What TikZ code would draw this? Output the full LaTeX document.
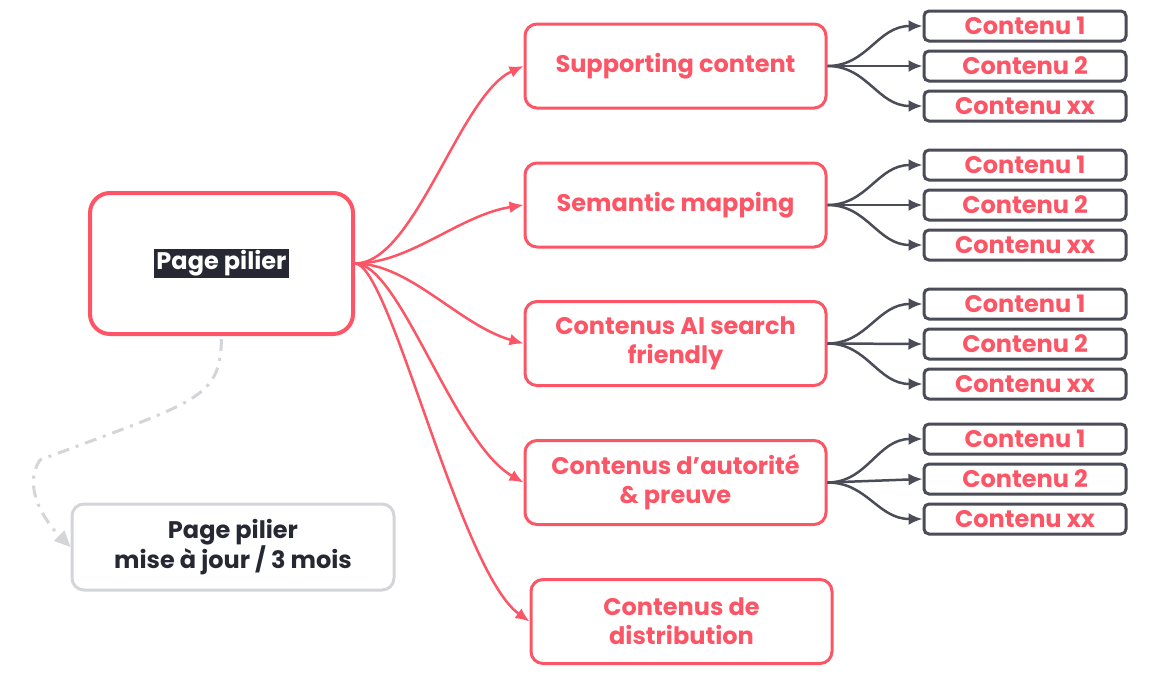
\documentclass[tikz,border=0pt]{standalone}
\usepackage{fontspec}
\setmainfont{Poppins}
\usetikzlibrary{arrows.meta}
\definecolor{pred}{HTML}{FB5566}
\definecolor{pdark}{HTML}{4A4C57}
\definecolor{pgray}{HTML}{D4D5D9}
\definecolor{ptext}{HTML}{262833}
\tikzset{
  txt/.style={font=\bfseries\fontsize{24}{29}\selectfont, align=center},
  midbox/.style={txt, draw=pred, text=pred, line width=3pt, rounded corners=12pt, minimum width=301pt, minimum height=84pt},
  leafbox/.style={font=\bfseries\fontsize{24}{26}\selectfont, draw=pdark, text=pred, line width=3pt, rounded corners=5pt, minimum width=202pt, minimum height=30pt, inner sep=0pt},
  redarrow/.style={draw=pred, line width=2.5pt, -{Latex[length=14pt,width=12pt]}},
  darkarrow/.style={draw=pdark, line width=2.5pt, -{Latex[length=14pt,width=12pt]}},
}
\begin{document}
\begin{tikzpicture}[x=1pt,y=-1pt]
\useasboundingbox (0,0) rectangle (1162,673);
\fill[white] (0,0) rectangle (1162,673);

% main node
\node[draw=pred, line width=4pt, rounded corners=20pt, minimum width=263pt, minimum height=141pt] (pp) at (221.5,263.5) {};
\node[txt, fill=ptext, text=white, inner sep=2pt] (pptxt) at (pp.center) {Page pilier};

% update node
\node[txt, draw=pgray, text=ptext, line width=3pt, rounded corners=12pt, minimum width=322pt, minimum height=86pt] (upd) at (233,547) {Page pilier\\mise à jour / 3 mois};

% middle nodes
\node[midbox] (m1) at (675.5,66) {Supporting content};
\node[midbox] (m2) at (675.5,205) {Semantic mapping};
\node[midbox] (m3) at (675.5,343.5) {Contenus AI search\\friendly};
\node[midbox] (m4) at (675.5,482.5) {Contenus d’autorité\\\& preuve};
\node[midbox] (m5) at (681.5,621.5) {Contenus de\\distribution};

% leaves
\foreach \g/\ya/\yb/\yc in {1/26/66/106, 2/165/205/245, 3/304/344/384, 4/439/479/519}{
  \node[leafbox] (l\g a) at (1025,\ya) {Contenu 1};
  \node[leafbox] (l\g b) at (1025,\yb) {Contenu 2};
  \node[leafbox] (l\g c) at (1025,\yc) {Contenu xx};
}

% red connectors
\draw[redarrow] (pp.east) .. controls +(60,0) and +(-64,29) .. (m1.west);
\draw[redarrow] (pp.east) .. controls +(55,0) and +(-64,10) .. (m2.west);
\draw[redarrow] (pp.east) .. controls +(55,0) and +(-64,-18) .. (m3.west);
\draw[redarrow] (pp.east) .. controls +(45,0) and +(-70,-40) .. (m4.west);
\draw[redarrow] (pp.east) .. controls +(35,0) and +(-70,-50) .. (m5.west);

% dark forks
\foreach \g in {1,2,3,4}{
  \draw[darkarrow] (m\g.east) .. controls +(40,0) and +(-45,0) .. (l\g a.west);
  \draw[darkarrow] (m\g.east) -- (l\g b.west);
  \draw[darkarrow] (m\g.east) .. controls +(40,0) and +(-45,0) .. (l\g c.west);
}

% dashed update link
\draw[draw=pgray, line width=3pt, dash pattern=on 12pt off 7pt on 3pt off 7pt, -{Triangle[length=16pt,width=14pt]}]
  (pp.south) ++(0,3) .. controls +(-2,60) and +(160,-60) .. (40,460) .. controls +(-20,30) and +(-20,-20) .. (upd.west);
\end{tikzpicture}
\end{document}
